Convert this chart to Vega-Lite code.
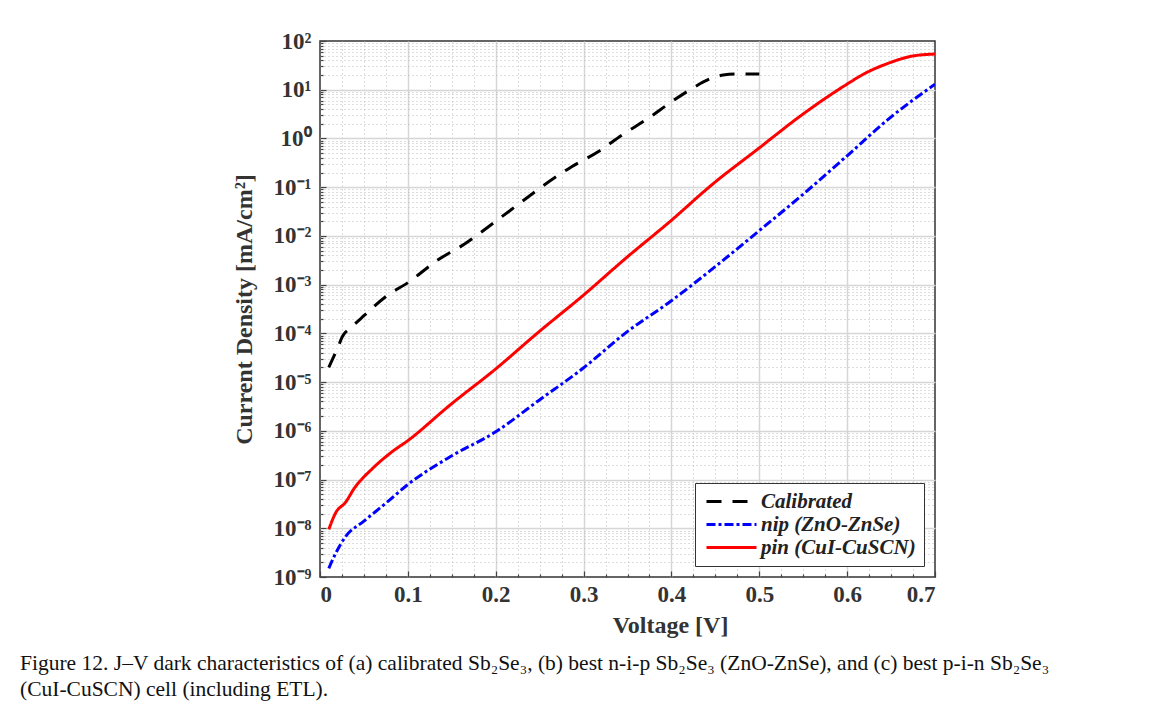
{
  "$schema": "https://vega.github.io/schema/vega-lite/v6.json",
  "width": 615,
  "height": 536,
  "autosize": {"type": "none"},
  "padding": {"left": 320, "top": 41, "right": 232, "bottom": 148},
  "background": "white",
  "title": {
    "text": ["Figure 12. J–V dark characteristics of (a) calibrated Sb₂Se₃, (b) best n-i-p Sb₂Se₃ (ZnO-ZnSe), and (c) best p-i-n Sb₂Se₃", "(CuI-CuSCN) cell (including ETL)."],
    "orient": "bottom",
    "anchor": "start",
    "frame": "group",
    "dx": -300,
    "offset": 16,
    "font": "Liberation Serif",
    "fontSize": 21.5,
    "fontWeight": "normal",
    "color": "#111",
    "lineHeight": 26
  },
  "config": {
    "view": {"stroke": "#333333", "strokeWidth": 1.5},
    "axis": {
      "labelFont": "Liberation Serif",
      "labelFontWeight": "bold",
      "labelColor": "#333",
      "titleFont": "Liberation Serif",
      "titleFontWeight": "bold",
      "titleColor": "#333",
      "domain": false,
      "tickColor": "#444",
      "labelOverlap": false
    }
  },
  "data": {
    "values": [
      {"V": 0.01, "J": 2e-5, "series": "Calibrated"},
      {"V": 0.02, "J": 5e-5, "series": "Calibrated"},
      {"V": 0.026, "J": 8.9e-5, "series": "Calibrated"},
      {"V": 0.035, "J": 1.3e-4, "series": "Calibrated"},
      {"V": 0.05, "J": 2.3e-4, "series": "Calibrated"},
      {"V": 0.076, "J": 5.9e-4, "series": "Calibrated"},
      {"V": 0.1, "J": 1.1e-3, "series": "Calibrated"},
      {"V": 0.134, "J": 3.2e-3, "series": "Calibrated"},
      {"V": 0.165, "J": 6.9e-3, "series": "Calibrated"},
      {"V": 0.2, "J": 2e-2, "series": "Calibrated"},
      {"V": 0.233, "J": 5.6e-2, "series": "Calibrated"},
      {"V": 0.254, "J": 0.107, "series": "Calibrated"},
      {"V": 0.286, "J": 0.26, "series": "Calibrated"},
      {"V": 0.317, "J": 0.54, "series": "Calibrated"},
      {"V": 0.343, "J": 1.15, "series": "Calibrated"},
      {"V": 0.375, "J": 2.7, "series": "Calibrated"},
      {"V": 0.401, "J": 5.8, "series": "Calibrated"},
      {"V": 0.422, "J": 10.2, "series": "Calibrated"},
      {"V": 0.443, "J": 16.5, "series": "Calibrated"},
      {"V": 0.459, "J": 20, "series": "Calibrated"},
      {"V": 0.475, "J": 21, "series": "Calibrated"},
      {"V": 0.5, "J": 21, "series": "Calibrated"},
      {"V": 0.01, "J": 1.5e-9, "series": "nip (ZnO-ZnSe)"},
      {"V": 0.018, "J": 3.1e-9, "series": "nip (ZnO-ZnSe)"},
      {"V": 0.029, "J": 6.7e-9, "series": "nip (ZnO-ZnSe)"},
      {"V": 0.05, "J": 1.4e-8, "series": "nip (ZnO-ZnSe)"},
      {"V": 0.076, "J": 3.4e-8, "series": "nip (ZnO-ZnSe)"},
      {"V": 0.1, "J": 7.9e-8, "series": "nip (ZnO-ZnSe)"},
      {"V": 0.149, "J": 3e-7, "series": "nip (ZnO-ZnSe)"},
      {"V": 0.199, "J": 9.3e-7, "series": "nip (ZnO-ZnSe)"},
      {"V": 0.249, "J": 4.2e-6, "series": "nip (ZnO-ZnSe)"},
      {"V": 0.299, "J": 1.9e-5, "series": "nip (ZnO-ZnSe)"},
      {"V": 0.349, "J": 1.06e-4, "series": "nip (ZnO-ZnSe)"},
      {"V": 0.398, "J": 4.4e-4, "series": "nip (ZnO-ZnSe)"},
      {"V": 0.448, "J": 2.2e-3, "series": "nip (ZnO-ZnSe)"},
      {"V": 0.498, "J": 1.2e-2, "series": "nip (ZnO-ZnSe)"},
      {"V": 0.548, "J": 6.7e-2, "series": "nip (ZnO-ZnSe)"},
      {"V": 0.598, "J": 0.41, "series": "nip (ZnO-ZnSe)"},
      {"V": 0.647, "J": 2.5, "series": "nip (ZnO-ZnSe)"},
      {"V": 0.7, "J": 13, "series": "nip (ZnO-ZnSe)"},
      {"V": 0.01, "J": 9.5e-9, "series": "pin (CuI-CuSCN)"},
      {"V": 0.018, "J": 2.1e-8, "series": "pin (CuI-CuSCN)"},
      {"V": 0.029, "J": 3.4e-8, "series": "pin (CuI-CuSCN)"},
      {"V": 0.039, "J": 6.6e-8, "series": "pin (CuI-CuSCN)"},
      {"V": 0.06, "J": 1.7e-7, "series": "pin (CuI-CuSCN)"},
      {"V": 0.081, "J": 3.6e-7, "series": "pin (CuI-CuSCN)"},
      {"V": 0.1, "J": 6.3e-7, "series": "pin (CuI-CuSCN)"},
      {"V": 0.149, "J": 3.5e-6, "series": "pin (CuI-CuSCN)"},
      {"V": 0.199, "J": 1.8e-5, "series": "pin (CuI-CuSCN)"},
      {"V": 0.249, "J": 1.07e-4, "series": "pin (CuI-CuSCN)"},
      {"V": 0.299, "J": 5.9e-4, "series": "pin (CuI-CuSCN)"},
      {"V": 0.349, "J": 3.6e-3, "series": "pin (CuI-CuSCN)"},
      {"V": 0.398, "J": 1.95e-2, "series": "pin (CuI-CuSCN)"},
      {"V": 0.448, "J": 0.12, "series": "pin (CuI-CuSCN)"},
      {"V": 0.498, "J": 0.6, "series": "pin (CuI-CuSCN)"},
      {"V": 0.548, "J": 3.0, "series": "pin (CuI-CuSCN)"},
      {"V": 0.598, "J": 12.4, "series": "pin (CuI-CuSCN)"},
      {"V": 0.621, "J": 22, "series": "pin (CuI-CuSCN)"},
      {"V": 0.647, "J": 35, "series": "pin (CuI-CuSCN)"},
      {"V": 0.674, "J": 49, "series": "pin (CuI-CuSCN)"},
      {"V": 0.7, "J": 54, "series": "pin (CuI-CuSCN)"}
    ]
  },
  "mark": {"type": "line", "strokeWidth": 3, "interpolate": "monotone", "clip": true},
  "encoding": {
    "x": {
      "field": "V",
      "type": "quantitative",
      "scale": {"domain": [0, 0.7], "nice": false, "zero": false},
      "axis": {
        "title": "Voltage [V]",
        "titleFontSize": 24,
        "titlePadding": 4,
        "titleX": 350,
        "labelFontSize": 23,
        "labelPadding": 12,
        "values": [0, 0.025, 0.05, 0.075, 0.1, 0.125, 0.15, 0.175, 0.2, 0.225, 0.25, 0.275, 0.3, 0.325, 0.35, 0.375, 0.4, 0.425, 0.45, 0.475, 0.5, 0.525, 0.55, 0.575, 0.6, 0.625, 0.65, 0.675, 0.7],
        "labelExpr": "abs(datum.value*10 - round(datum.value*10)) < 0.001 ? format(datum.value, '~g') : ''",
        "grid": true,
        "gridColor": {"condition": {"test": "abs(datum.value*10 - round(datum.value*10)) < 0.001", "value": "#d6d6d6"}, "value": "#bdbdbd"},
        "gridWidth": {"condition": {"test": "abs(datum.value*10 - round(datum.value*10)) < 0.001", "value": 1.5}, "value": 1},
        "gridDash": {"condition": {"test": "abs(datum.value*10 - round(datum.value*10)) < 0.001", "value": []}, "value": [1, 3]},
        "gridOpacity": {"condition": {"test": "datum.value < 0.001 || datum.value > 0.699", "value": 0}, "value": 1},
        "tickSize": {"condition": {"test": "abs(datum.value*10 - round(datum.value*10)) < 0.001", "value": -6}, "value": -3},
        "tickWidth": 1.2
      }
    },
    "y": {
      "field": "J",
      "type": "quantitative",
      "scale": {"type": "log", "domain": [1e-9, 100], "nice": false},
      "axis": {
        "title": "Current Density [mA/cm²]",
        "titleFontSize": 24,
        "titlePadding": 17,
        "labelFontSize": 23,
        "labelPadding": 15,
        "values": [1e-9,2e-9,3e-9,4e-9,5e-9,6e-9,7e-9,8e-9,9e-9,1e-8,2e-8,3e-8,4e-8,5e-8,6e-8,7e-8,8e-8,9e-8,1e-7,2e-7,3e-7,4e-7,5e-7,6e-7,7e-7,8e-7,9e-7,1e-6,2e-6,3e-6,4e-6,5e-6,6e-6,7e-6,8e-6,9e-6,1e-5,2e-5,3e-5,4e-5,5e-5,6e-5,7e-5,8e-5,9e-5,1e-4,2e-4,3e-4,4e-4,5e-4,6e-4,7e-4,8e-4,9e-4,1e-3,2e-3,3e-3,4e-3,5e-3,6e-3,7e-3,8e-3,9e-3,1e-2,2e-2,3e-2,4e-2,5e-2,6e-2,7e-2,8e-2,9e-2,0.1,0.2,0.3,0.4,0.5,0.6,0.7,0.8,0.9,1,2,3,4,5,6,7,8,9,10,20,30,40,50,60,70,80,90,100],
        "labelExpr": "abs(log(datum.value)/LN10 - round(log(datum.value)/LN10)) < 0.001 ? '10' + (round(log(datum.value)/LN10) < 0 ? '⁻' : '') + ['⁰','¹','²','³','⁴','⁵','⁶','⁷','⁸','⁹'][abs(round(log(datum.value)/LN10))] : ''",
        "grid": true,
        "gridColor": {"condition": {"test": "abs(log(datum.value)/LN10 - round(log(datum.value)/LN10)) < 0.001", "value": "#d6d6d6"}, "value": "#bdbdbd"},
        "gridWidth": {"condition": {"test": "abs(log(datum.value)/LN10 - round(log(datum.value)/LN10)) < 0.001", "value": 1.5}, "value": 1},
        "gridDash": {"condition": {"test": "abs(log(datum.value)/LN10 - round(log(datum.value)/LN10)) < 0.001", "value": []}, "value": [1, 3]},
        "gridOpacity": {"condition": {"test": "datum.value < 1.1e-9 || datum.value > 99", "value": 0}, "value": 1},
        "tickSize": {"condition": {"test": "abs(log(datum.value)/LN10 - round(log(datum.value)/LN10)) < 0.001", "value": -6}, "value": -3},
        "tickWidth": 1.2
      }
    },
    "color": {
      "field": "series",
      "type": "nominal",
      "scale": {"domain": ["Calibrated", "nip (ZnO-ZnSe)", "pin (CuI-CuSCN)"], "range": ["#000000", "#0000ff", "#ff0000"]},
      "legend": {
        "title": null,
        "orient": "none",
        "legendX": 375,
        "legendY": 442,
        "direction": "vertical",
        "symbolType": "M-5,0H5",
        "symbolSize": 100,
        "symbolStrokeWidth": 3,
        "symbolFillColor": "transparent",
        "symbolOffset": 18,
        "labelOffset": 19,
        "labelLimit": 300,
        "labelFont": "Liberation Serif",
        "labelFontSize": 21,
        "labelFontStyle": "italic",
        "labelFontWeight": "bold",
        "labelColor": "#222",
        "rowPadding": 1,
        "padding": 8,
        "strokeColor": "#333",
        "fillColor": "white"
      }
    },
    "strokeDash": {
      "field": "series",
      "type": "nominal",
      "scale": {"domain": ["Calibrated", "nip (ZnO-ZnSe)", "pin (CuI-CuSCN)"], "range": [[15, 11], [9, 3, 3, 3], [1, 0]]},
      "legend": null
    }
  }
}
